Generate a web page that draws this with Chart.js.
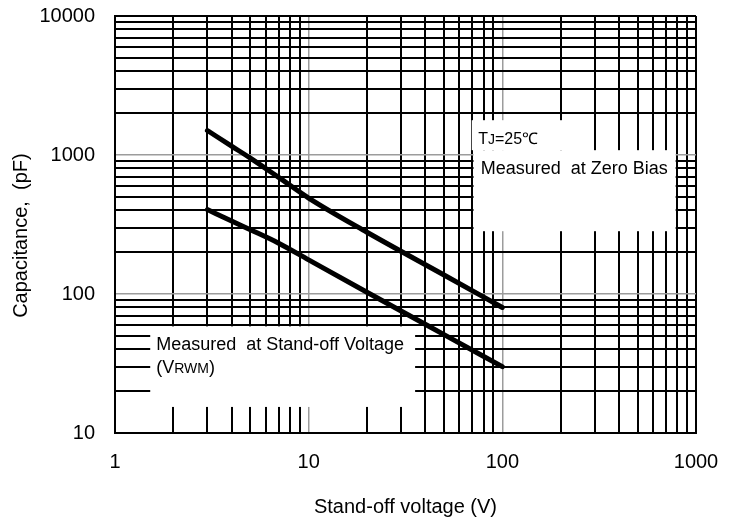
<!DOCTYPE html>
<html>
<head>
<meta charset="utf-8">
<script src="https://cdn.jsdelivr.net/npm/chart.js@4.4.1/dist/chart.umd.min.js"></script>
<style>
  html, body { margin: 0; padding: 0; background: #fff; }
  #c { display: block; }
</style>
</head>
<body>
<canvas id="c" width="739" height="523"></canvas>
<script>
"use strict";

// values
const voltage = [3, 4, 5, 7, 10, 20, 50, 100];
const zeroBias = [1500, 1158, 950, 690, 490, 278, 137, 80];
const standOff = [405, 335, 290, 232, 176, 103, 51, 30];

const xDecades = [1, 10, 100, 1000];
const yDecades = [10, 100, 1000, 10000];
const minorSteps = [1, 2, 3, 4, 5, 6, 7, 8, 9];

const FONT = "'Liberation Sans', Arial, sans-serif";

const logTicks = (decades) => {
  const out = [];
  decades.forEach((d, i) => {
    if (i === decades.length - 1) { out.push({ value: d }); return; }
    minorSteps.forEach((m) => out.push({ value: d * m }));
  });
  return out;
};

// decade lines inside the plot are grey, everything else black
const gridColor = (decades) => (ctx) =>
  decades.slice(1, -1).includes(ctx.tick && ctx.tick.value) ? "#9c9c9c" : "#000";
const gridWidth = (decades) => (ctx) =>
  decades.slice(1, -1).includes(ctx.tick && ctx.tick.value) ? 1.5 : 2;

// white label boxes that blank out the grid (in data units)
const boxes = [
  { x: [1.52, 35.45], y: [15.4, 58.5] },
  { x: [69.5, 260], y: [1083, 1780] },
  { x: [71, 785], y: [283, 1083] },
];

const labelBoxes = {
  id: "labelBoxes",
  beforeDatasetsDraw(chart) {
    const { ctx, scales: { x, y } } = chart;
    ctx.save();
    ctx.fillStyle = "#fff";
    for (const b of boxes) {
      const l = x.getPixelForValue(b.x[0]), r = x.getPixelForValue(b.x[1]);
      const t = y.getPixelForValue(b.y[1]), btm = y.getPixelForValue(b.y[0]);
      ctx.fillRect(l, t, r - l, btm - t);
    }
    ctx.restore();
  },
  afterDatasetsDraw(chart) {
    const { ctx, scales: { x, y } } = chart;
    const big = `18px ${FONT}`, small = `14px ${FONT}`;
    ctx.save();
    ctx.fillStyle = "#000";
    ctx.textBaseline = "alphabetic";
    ctx.textAlign = "left";

    // bottom-left box
    let l = x.getPixelForValue(boxes[0].x[0]);
    let t = y.getPixelForValue(boxes[0].y[1]);
    ctx.font = big;
    ctx.fillText("Measured  at Stand-off Voltage", l + 6, t + 24);
    let px = l + 6;
    ctx.fillText("(V", px, t + 47);
    px += ctx.measureText("(V").width;
    ctx.font = small;
    ctx.fillText("RWM", px, t + 47);
    px += ctx.measureText("RWM").width;
    ctx.font = big;
    ctx.fillText(")", px, t + 47);

    // top-right boxes
    l = x.getPixelForValue(boxes[1].x[0]);
    t = y.getPixelForValue(boxes[1].y[1]);
    px = l + 6.5;
    ctx.font = `16px ${FONT}`;
    ctx.fillText("T", px, t + 23.5);
    px += ctx.measureText("T").width;
    ctx.font = `14px ${FONT}`;
    ctx.fillText("J", px, t + 23.5);
    px += ctx.measureText("J").width;
    ctx.font = `16px ${FONT}`;
    ctx.fillText("=25℃", px, t + 23.5);

    ctx.font = big;
    ctx.fillText("Measured  at Zero Bias", l + 9, t + 54);
    ctx.restore();
  },
};

new Chart(document.getElementById("c"), {
  type: "line",
  data: {
    labels: voltage,
    datasets: [
      { label: "Zero bias", data: voltage.map((v, i) => ({ x: v, y: zeroBias[i] })) },
      { label: "Stand-off", data: voltage.map((v, i) => ({ x: v, y: standOff[i] })) },
    ],
  },
  options: {
    responsive: false,
    animation: false,
    devicePixelRatio: 1,
    layout: { padding: { left: 0, right: 43, top: 0, bottom: 0 } },
    elements: {
      line: { borderColor: "#000", borderWidth: 5, borderCapStyle: "round", cubicInterpolationMode: "monotone", fill: false },
      point: { radius: 0, hoverRadius: 0 },
    },
    plugins: { legend: { display: false }, tooltip: { enabled: false } },
    scales: {
      x: {
        type: "logarithmic",
        min: xDecades[0],
        max: xDecades[xDecades.length - 1],
        afterBuildTicks: (s) => { s.ticks = logTicks(xDecades); },
        afterFit: (s) => { s.height = 90; },
        grid: { color: gridColor(xDecades), lineWidth: gridWidth(xDecades), drawTicks: false },
        border: { color: "#000", width: 2 },
        ticks: {
          autoSkip: false,
          maxRotation: 0,
          padding: 17,
          color: "#000",
          font: { family: FONT, size: 20 },
          callback: (v) => (xDecades.includes(v) ? String(v) : ""),
        },
        title: {
          display: true,
          text: "Stand-off voltage (V)",
          color: "#000",
          font: { family: FONT, size: 20 },
          padding: { top: 0, bottom: 4 },
        },
      },
      y: {
        type: "logarithmic",
        min: yDecades[0],
        max: yDecades[yDecades.length - 1],
        afterBuildTicks: (s) => { s.ticks = logTicks(yDecades); },
        afterFit: (s) => { s.width = 115; s.paddingTop = 16; s.paddingBottom = 0; },
        grid: { color: gridColor(yDecades), lineWidth: gridWidth(yDecades), drawTicks: false },
        border: { color: "#000", width: 2 },
        ticks: {
          autoSkip: false,
          padding: 20,
          color: "#000",
          font: { family: FONT, size: 20 },
          callback: (v) => (yDecades.includes(v) ? String(v) : ""),
        },
        title: {
          display: true,
          text: "Capacitance,  (pF)    ",
          color: "#000",
          font: { family: FONT, size: 20 },
          padding: { top: 9, bottom: 0 },
        },
      },
    },
  },
  plugins: [labelBoxes],
});
</script>
</body>
</html>
